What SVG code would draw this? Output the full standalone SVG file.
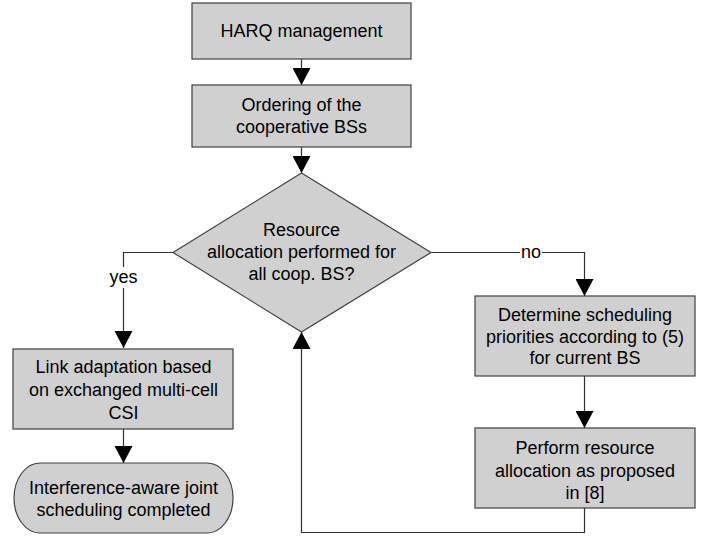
<svg xmlns="http://www.w3.org/2000/svg" width="712" height="537" viewBox="0 0 712 537">
<style>
.box{fill:#d0d0d0;stroke:#404040;stroke-width:1.2}
.t{font-family:"Liberation Sans",Arial,sans-serif;font-size:18px;fill:#000;text-anchor:middle;dominant-baseline:central}
.c{fill:none;stroke:#303030;stroke-width:1.2}
.lbl{font-family:"Liberation Sans",Arial,sans-serif;font-size:18px;fill:#000;text-anchor:middle;dominant-baseline:central}
</style>
<defs>
<marker id="ah" markerWidth="17" markerHeight="18" refX="17" refY="9" orient="auto" markerUnits="userSpaceOnUse">
<path d="M0,0 L17,9 L0,18 Z" fill="#000"/>
</marker>
</defs>
<rect width="712" height="537" fill="#fff"/>
<g id="connectors">
<line class="c" x1="301.5" y1="59" x2="301.5" y2="85" marker-end="url(#ah)"/>
<line class="c" x1="301.5" y1="147" x2="301.5" y2="173" marker-end="url(#ah)"/>
<polyline class="c" points="173,252.5 123.5,252.5 123.5,267"/>
<polyline class="c" points="123.5,288 123.5,348" marker-end="url(#ah)"/>
<line class="c" x1="123.5" y1="429" x2="123.5" y2="463" marker-end="url(#ah)"/>
<polyline class="c" points="431,252.5 520,252.5"/>
<polyline class="c" points="542,252.5 584.5,252.5 584.5,296" marker-end="url(#ah)"/>
<line class="c" x1="584.5" y1="376" x2="584.5" y2="428" marker-end="url(#ah)"/>
<polyline class="c" points="584.5,508 584.5,532.5 301.5,532.5 301.5,332" marker-end="url(#ah)"/>
<text class="lbl" x="123.5" y="277">yes</text>
<text class="lbl" x="531" y="252">no</text>
</g>
<g id="harq">
<rect class="box" x="192" y="3" width="219" height="56"/>
<text class="t" x="301.5" y="31">HARQ management</text>
</g>
<g id="ordering">
<rect class="box" x="192" y="85" width="219" height="62"/>
<text class="t" x="301.5" y="105">Ordering of the</text>
<text class="t" x="301.5" y="127">cooperative BSs</text>
</g>
<g id="decision">
<polygon class="box" points="301.5,173 431,252.5 301.5,332 173,252.5"/>
<text class="t" x="301.5" y="230">Resource</text>
<text class="t" x="301.5" y="252">allocation performed for</text>
<text class="t" x="301.5" y="274">all coop. BS?</text>
</g>
<g id="link">
<rect class="box" x="13" y="349" width="220" height="80"/>
<text class="t" x="123.5" y="367">Link adaptation based</text>
<text class="t" x="123.5" y="390">on exchanged multi-cell</text>
<text class="t" x="123.5" y="413">CSI</text>
</g>
<g id="done">
<rect class="box" x="14" y="463" width="219" height="70" rx="26" ry="35"/>
<text class="t" x="123.5" y="488">Interference-aware joint</text>
<text class="t" x="123.5" y="510">scheduling completed</text>
</g>
<g id="determine">
<rect class="box" x="475" y="296" width="220" height="80"/>
<text class="t" x="585" y="315">Determine scheduling</text>
<text class="t" x="585" y="337">priorities according to (5)</text>
<text class="t" x="585" y="358">for current BS</text>
</g>
<g id="perform">
<rect class="box" x="475" y="428" width="220" height="80"/>
<text class="t" x="585" y="448">Perform resource</text>
<text class="t" x="585" y="471">allocation as proposed</text>
<text class="t" x="585" y="493">in [8]</text>
</g>
</svg>
